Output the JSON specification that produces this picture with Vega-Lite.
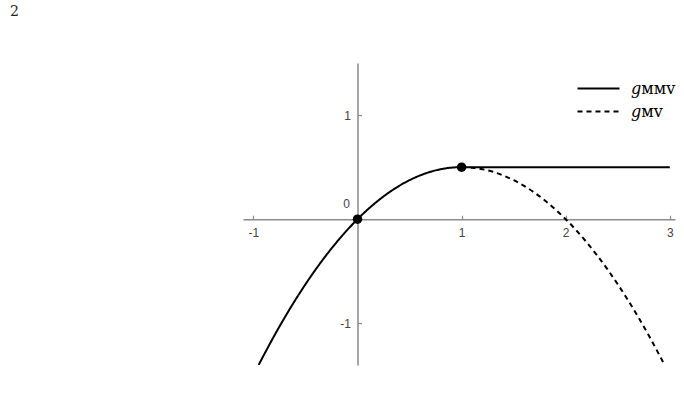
{
  "$schema": "https://vega.github.io/schema/vega-lite/v6.json",
  "width": 432,
  "height": 302,
  "autosize": "none",
  "padding": {"left": 243, "top": 63, "right": 9, "bottom": 37},
  "background": "white",
  "title": {
    "text": "2",
    "anchor": "start",
    "frame": "group",
    "dx": -233,
    "offset": 44,
    "font": "DejaVu Serif",
    "fontSize": 14,
    "fontWeight": "normal",
    "color": "#222"
  },
  "datasets": {
    "curves": [
      {"x": -0.95, "g": -1.4, "series": "MMV"},
      {"x": -0.9, "g": -1.305, "series": "MMV"},
      {"x": -0.8, "g": -1.12, "series": "MMV"},
      {"x": -0.7, "g": -0.945, "series": "MMV"},
      {"x": -0.6, "g": -0.78, "series": "MMV"},
      {"x": -0.5, "g": -0.625, "series": "MMV"},
      {"x": -0.4, "g": -0.48, "series": "MMV"},
      {"x": -0.3, "g": -0.345, "series": "MMV"},
      {"x": -0.2, "g": -0.22, "series": "MMV"},
      {"x": -0.1, "g": -0.105, "series": "MMV"},
      {"x": 0, "g": 0, "series": "MMV"},
      {"x": 0.1, "g": 0.095, "series": "MMV"},
      {"x": 0.2, "g": 0.18, "series": "MMV"},
      {"x": 0.3, "g": 0.255, "series": "MMV"},
      {"x": 0.4, "g": 0.32, "series": "MMV"},
      {"x": 0.5, "g": 0.375, "series": "MMV"},
      {"x": 0.6, "g": 0.42, "series": "MMV"},
      {"x": 0.7, "g": 0.455, "series": "MMV"},
      {"x": 0.8, "g": 0.48, "series": "MMV"},
      {"x": 0.9, "g": 0.495, "series": "MMV"},
      {"x": 1.0, "g": 0.5, "series": "MMV"},
      {"x": 2.0, "g": 0.5, "series": "MMV"},
      {"x": 3.0, "g": 0.5, "series": "MMV"},
      {"x": 1.0, "g": 0.5, "series": "MV"},
      {"x": 1.1, "g": 0.495, "series": "MV"},
      {"x": 1.2, "g": 0.48, "series": "MV"},
      {"x": 1.3, "g": 0.455, "series": "MV"},
      {"x": 1.4, "g": 0.42, "series": "MV"},
      {"x": 1.5, "g": 0.375, "series": "MV"},
      {"x": 1.6, "g": 0.32, "series": "MV"},
      {"x": 1.7, "g": 0.255, "series": "MV"},
      {"x": 1.8, "g": 0.18, "series": "MV"},
      {"x": 1.9, "g": 0.095, "series": "MV"},
      {"x": 2.0, "g": 0, "series": "MV"},
      {"x": 2.1, "g": -0.105, "series": "MV"},
      {"x": 2.2, "g": -0.22, "series": "MV"},
      {"x": 2.3, "g": -0.345, "series": "MV"},
      {"x": 2.4, "g": -0.48, "series": "MV"},
      {"x": 2.5, "g": -0.625, "series": "MV"},
      {"x": 2.6, "g": -0.78, "series": "MV"},
      {"x": 2.7, "g": -0.945, "series": "MV"},
      {"x": 2.8, "g": -1.12, "series": "MV"},
      {"x": 2.9, "g": -1.305, "series": "MV"},
      {"x": 2.95, "g": -1.4, "series": "MV"}
    ],
    "points": [
      {"x": 0, "g": 0, "label": "0"},
      {"x": 1, "g": 0.5, "label": ""}
    ]
  },
  "layer": [
    {
      "data": {"name": "curves"},
      "mark": {"type": "line", "interpolate": "monotone", "strokeWidth": 2, "color": "black", "clip": true},
      "encoding": {
        "x": {
          "field": "x",
          "type": "quantitative",
          "scale": {"domain": [-1.1, 3.05], "nice": false, "zero": false},
          "axis": {
            "orient": "bottom",
            "offset": -145.8,
            "values": [-1, 1, 2, 3],
            "labelExpr": "'' + datum.value",
            "title": null,
            "grid": false,
            "tickSize": -4,
            "labelPadding": 12,
            "labelFlush": false
          }
        },
        "y": {
          "field": "g",
          "type": "quantitative",
          "scale": {"domain": [-1.4, 1.5], "nice": false, "zero": false},
          "axis": {
            "orient": "left",
            "offset": -114.5,
            "values": [-1, 1],
            "labelExpr": "'' + datum.value",
            "title": null,
            "grid": false,
            "tickSize": -4,
            "labelPadding": 11,
            "labelFlush": false
          }
        },
        "strokeDash": {
          "field": "series",
          "type": "nominal",
          "scale": {"domain": ["MMV", "MV"], "range": [[1, 0], [5, 4]]},
          "legend": {
            "title": null,
            "orient": "none",
            "legendX": 344,
            "legendY": 14,
            "symbolType": "M-2,0H2",
            "symbolSize": 441,
            "symbolStrokeWidth": 2,
            "symbolStrokeColor": "black",
            "symbolFillColor": "transparent",
            "labelExpr": "datum.label == 'MMV' ? '𝑔ᴍᴍᴠ' : '𝑔ᴍᴠ'",
            "labelFont": "DejaVu Serif",
            "labelFontSize": 16,
            "labelColor": "black",
            "labelOffset": 21,
            "rowPadding": 3
          }
        },
        "order": {"field": "x", "type": "quantitative"}
      }
    },
    {
      "data": {"name": "points"},
      "mark": {"type": "circle", "size": 90, "color": "black", "opacity": 1},
      "encoding": {
        "x": {"field": "x", "type": "quantitative"},
        "y": {"field": "g", "type": "quantitative"}
      }
    },
    {
      "data": {"name": "points"},
      "mark": {"type": "text", "dx": -11, "dy": -15, "font": "Liberation Sans", "fontSize": 12, "color": "#444"},
      "encoding": {
        "x": {"field": "x", "type": "quantitative"},
        "y": {"field": "g", "type": "quantitative"},
        "text": {"field": "label"}
      }
    }
  ],
  "config": {
    "view": {"stroke": null},
    "axis": {
      "domainColor": "#8a8a8a",
      "domainWidth": 1.5,
      "tickColor": "#8a8a8a",
      "tickWidth": 1.2,
      "labelFont": "Liberation Sans",
      "labelFontSize": 12,
      "labelColor": "#444"
    }
  }
}
